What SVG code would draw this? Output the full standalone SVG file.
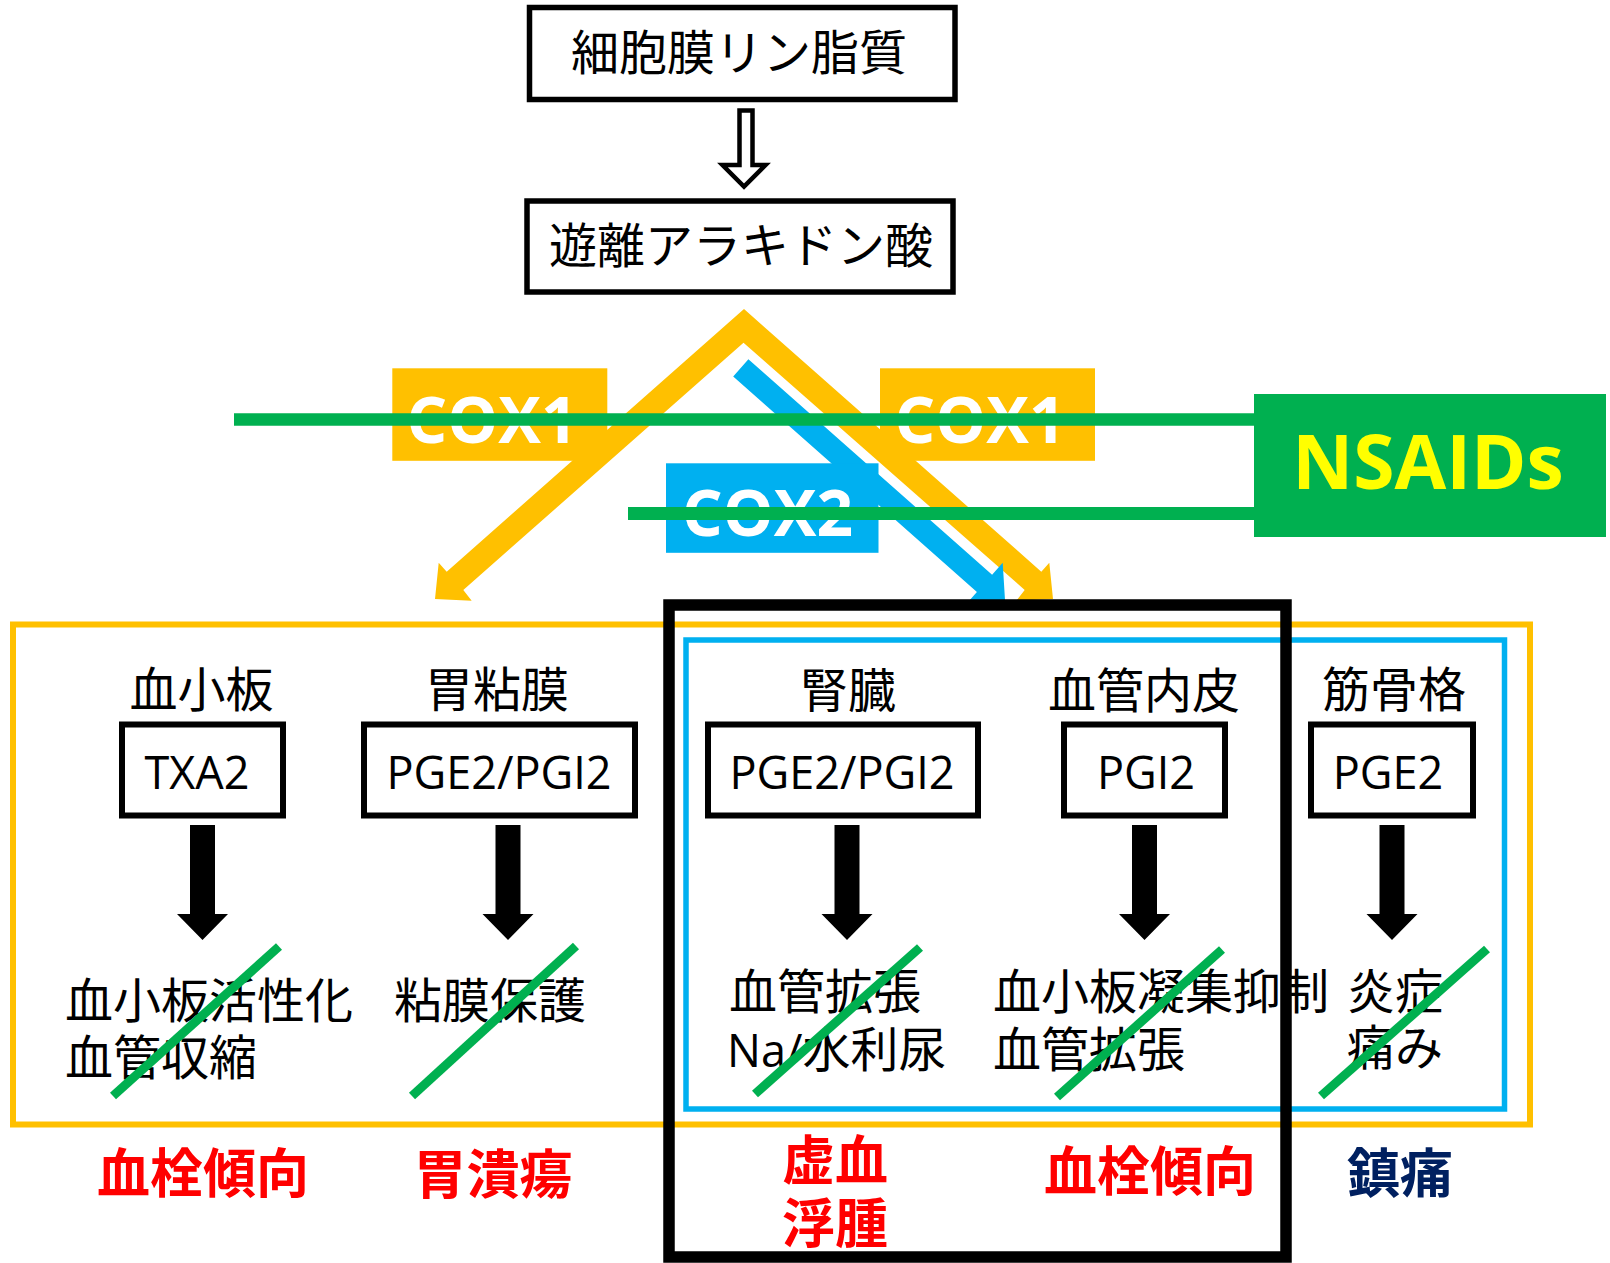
<svg xmlns="http://www.w3.org/2000/svg" xmlns:xlink="http://www.w3.org/1999/xlink" width="1610" height="1263" viewBox="0 0 1610 1263">
<style>
.jp{font-family:"Noto Sans CJK JP",sans-serif;font-size:48px;fill:#000}
.lat{font-family:"Open Sans","Noto Sans CJK JP",sans-serif;font-size:45px;fill:#000}
.mid{text-anchor:middle}
.box{fill:#fff;stroke:#000;stroke-width:6}
.tbox{fill:#fff;stroke:#000;stroke-width:5.5}
.cox{font-family:"Open Sans",sans-serif;font-weight:700;font-size:64px;fill:#fff;text-anchor:middle}
.res{font-family:"Noto Sans CJK JP",sans-serif;font-weight:700;font-size:53px;text-anchor:middle}
.red{fill:#FF0000}
.navy{fill:#002060}
.slash{stroke:#00B050;stroke-width:9;fill:none}
.nline{stroke:#00B050;fill:none}
</style>
<defs>
<path id="darr" d="M-12.5,825 H12.5 V914 H25.5 L0,940 L-25.5,914 H-12.5 Z" fill="#000"/>
</defs>
<rect width="1610" height="1263" fill="#fff"/>

<!-- group frames -->
<rect id="frame-cox1" x="13" y="624.5" width="1517" height="500" fill="none" stroke="#FFC000" stroke-width="6"/>
<rect id="frame-cox2" x="686" y="640" width="818.5" height="469" fill="none" stroke="#00B0F0" stroke-width="5.5"/>

<g id="node-membrane">
<rect class="tbox" x="529.5" y="7.5" width="425.5" height="92"/>
<text class="jp mid" x="739" y="69.5">細胞膜リン脂質</text>
</g>
<g id="node-arachidonic">
<rect class="tbox" x="527" y="201" width="426" height="91"/>
<text class="jp mid" x="741" y="263">遊離アラキドン酸</text>
</g>

<g id="connectors">
<path d="M739.5,110.5 H752.5 V165 H765.5 L744,186.5 L722.5,165 H739.5 Z" fill="#fff" stroke="#000" stroke-width="4.5" stroke-linejoin="miter"/>
<polygon fill="#FFC000" points="744,309 1041.3,571.7 1049.3,562.7 1053,599 1016.3,600.7 1024.7,590 743.5,342.7 463.3,590 471.7,600.7 435,599 438.7,562.7 446.7,571.7"/>
<polygon fill="#00B0F0" points="733.2,376.5 748.4,359.3 992.1,574.7 1002.7,562.7 1005.1,601.5 966.3,603.9 976.9,591.9"/>
<use xlink:href="#darr" x="202.5"/>
<use xlink:href="#darr" x="508"/>
<use xlink:href="#darr" x="847"/>
<use xlink:href="#darr" x="1144.5"/>
<use xlink:href="#darr" x="1392"/>
</g>

<g id="node-cox1-left">
<rect x="392.3" y="368.3" width="215" height="92.5" fill="#FFC000"/>
<text class="cox" x="492" y="442.5">COX1</text>
</g>
<g id="node-cox1-right">
<rect x="880" y="368.3" width="215" height="92.5" fill="#FFC000"/>
<text class="cox" x="980" y="442.5">COX1</text>
</g>
<g id="node-cox2">
<rect x="666" y="463.3" width="212.5" height="89.5" fill="#00B0F0"/>
<text class="cox" x="767.5" y="535.7">COX2</text>
</g>

<g id="node-nsaids">
<line class="nline" x1="234" y1="419.5" x2="1256" y2="419.5" stroke-width="12.3"/>
<line class="nline" x1="628" y1="513.5" x2="1256" y2="513.5" stroke-width="13"/>
<rect x="1254" y="394" width="352" height="143" fill="#00B050"/>
<text x="1428" y="489" text-anchor="middle" font-family="Open Sans, sans-serif" font-weight="700" font-size="75" fill="#FFFF00">NSAIDs</text>
</g>

<g id="node-platelet">
<text class="jp mid" x="201.5" y="706.5">血小板</text>
<rect class="box" x="122" y="724.5" width="161" height="91"/>
<text class="lat mid" x="197" y="789">TXA2</text>
<text class="jp" x="65" y="1017.5">血小板活性化<tspan x="65" y="1075">血管収縮</tspan></text>
<text class="res red" x="203" y="1193">血栓傾向</text>
</g>
<g id="node-gastric">
<text class="jp mid" x="497" y="706.5">胃粘膜</text>
<rect class="box" x="364" y="724.5" width="271" height="91"/>
<text class="lat mid" x="499" y="789">PGE2/PGI2</text>
<text class="jp" x="394" y="1018">粘膜保護</text>
<text class="res red" x="493" y="1194">胃潰瘍</text>
</g>
<g id="node-kidney">
<text class="jp mid" x="848" y="707.5">腎臓</text>
<rect class="box" x="708" y="724.5" width="270" height="91"/>
<text class="lat mid" x="842" y="789">PGE2/PGI2</text>
<text class="jp" x="729" y="1009">血管拡張</text>
<text class="lat" x="727" y="1066.5">Na/<tspan font-family="Noto Sans CJK JP, sans-serif" font-size="48">水利尿</tspan></text>
<text class="res red" x="835" y="1179.5">虚血<tspan x="835" y="1243">浮腫</tspan></text>
</g>
<g id="node-endothelium">
<text class="jp mid" x="1144" y="707.5">血管内皮</text>
<rect class="box" x="1064" y="724.5" width="161" height="91"/>
<text class="lat mid" x="1146" y="789">PGI2</text>
<text class="jp" x="993" y="1009">血小板凝集抑制<tspan x="993" y="1067">血管拡張</tspan></text>
<text class="res red" x="1150" y="1191">血栓傾向</text>
</g>
<g id="node-musculoskeletal">
<text class="jp mid" x="1394" y="706.5">筋骨格</text>
<rect class="box" x="1311" y="724.5" width="162" height="91"/>
<text class="lat mid" x="1388" y="789">PGE2</text>
<text class="jp" x="1347" y="1008.5">炎症<tspan x="1347" y="1065">痛み</tspan></text>
<text class="res navy" x="1400" y="1193">鎮痛</text>
</g>

<g id="inhibition-marks">
<line class="slash" x1="113" y1="1096" x2="279" y2="946.5"/>
<line class="slash" x1="412" y1="1096" x2="576" y2="946"/>
<line class="slash" x1="755" y1="1094" x2="920" y2="947.5"/>
<line class="slash" x1="1057" y1="1097" x2="1222" y2="949.5"/>
<line class="slash" x1="1321" y1="1096" x2="1487" y2="949"/>
</g>

<rect id="frame-nsaid-effects" x="669" y="605" width="617" height="652" fill="none" stroke="#000" stroke-width="11.5"/>
</svg>
